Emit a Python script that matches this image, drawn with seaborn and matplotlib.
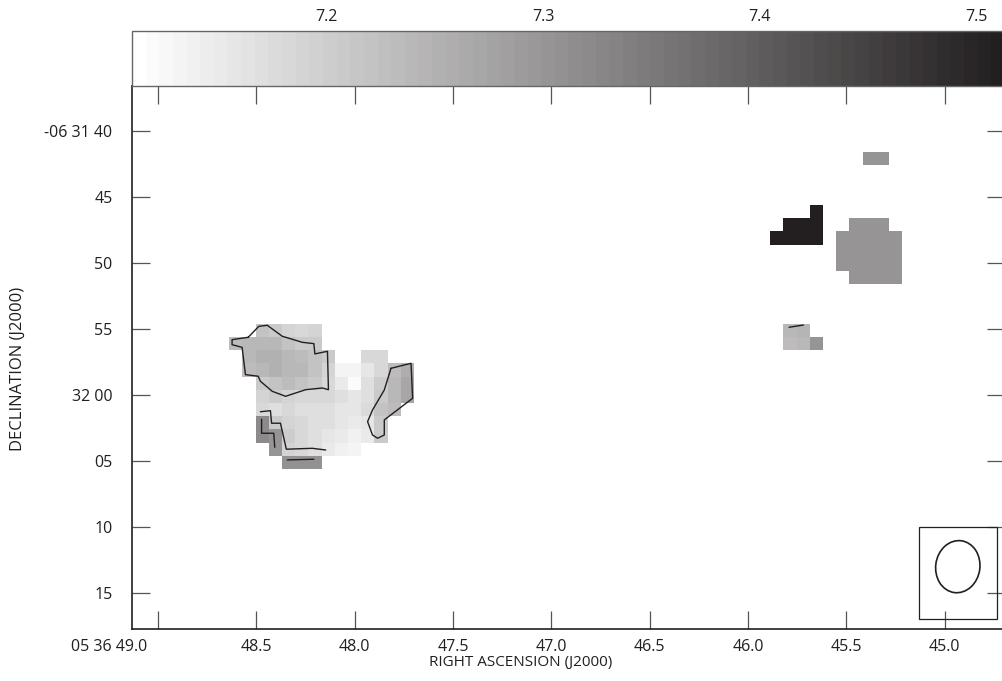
import numpy as np
import matplotlib
matplotlib.use('Agg')
import matplotlib.pyplot as plt
import matplotlib.transforms as mtransforms
from matplotlib.colors import LinearSegmentedColormap
from matplotlib.patches import Rectangle, Ellipse
import seaborn as sns

nan = np.nan

#%%
# map grid: 1 arcsec pixels; column 0 / row 0 left and top edges
ra_edge0 = 49.175      # RA seconds (05 36 ss) at left edge of column 0
dec_edge0 = 35.606     # arcsec south of -06 31 00 at top edge of row 0
pix_ra = 0.06709       # RA seconds per pixel
pix_dec = 1.0          # arcsec per pixel
n_cols, n_rows = 67, 43

# main source, columns 8-21, rows 19-29
src1_col, src1_row = 8, 19
src1 = [
    [nan, nan, 7.22, 7.21, 7.19, 7.18, 7.19, nan, nan, nan, nan, nan, nan, nan],
    [7.23, 7.24, 7.24, 7.24, 7.22, 7.21, 7.21, nan, nan, nan, nan, nan, nan, nan],
    [nan, 7.24, 7.25, 7.25, 7.24, 7.23, 7.22, 7.21, nan, nan, 7.18, 7.18, nan, nan],
    [nan, 7.23, 7.24, 7.25, 7.24, 7.24, 7.22, 7.19, 7.13, 7.13, 7.16, 7.18, 7.23, 7.26],
    [nan, nan, 7.21, 7.22, 7.23, 7.22, 7.21, 7.18, 7.15, 7.12, 7.17, 7.20, 7.24, 7.27],
    [nan, nan, 7.19, 7.20, 7.19, 7.18, 7.18, 7.18, 7.17, 7.16, 7.17, 7.21, 7.24, 7.27],
    [nan, nan, 7.18, 7.17, 7.18, 7.17, 7.17, 7.17, 7.16, 7.16, 7.175, 7.22, 7.23, nan],
    [nan, nan, 7.32, 7.21, 7.19, 7.18, 7.17, 7.17, 7.16, 7.15, 7.16, 7.21, nan, nan],
    [nan, nan, 7.32, 7.30, 7.20, 7.18, 7.17, 7.16, 7.15, 7.14, 7.15, 7.21, nan, nan],
    [nan, nan, nan, 7.30, 7.19, 7.18, 7.17, 7.15, 7.14, 7.13, nan, nan, nan, nan],
    [nan, nan, nan, nan, 7.31, 7.31, 7.31, nan, nan, nan, nan, nan, nan, nan],
]

# dark knot
src2_col, src2_row = 49, 10
src2 = [
    [nan, nan, nan, 7.51],
    [nan, 7.51, 7.51, 7.51],
    [7.51, 7.51, 7.51, 7.51],
]

# grey patch east
src3_col, src3_row = 54, 11
src3 = [
    [nan, 7.305, 7.305, 7.305, nan],
    [7.305, 7.305, 7.305, 7.305, 7.305],
    [7.305, 7.305, 7.305, 7.305, 7.305],
    [7.305, 7.305, 7.305, 7.305, 7.305],
    [nan, 7.305, 7.305, 7.305, 7.305],
]

src4_col, src4_row = 56, 6
src4 = [[7.30, 7.30]]

src5_col, src5_row = 50, 19
src5 = [
    [7.24, 7.245, nan],
    [7.23, 7.24, 7.30],
]

# contours (RA seconds, Dec arcsec south of -06 31 00)
cont_a_ra = [48.542, 48.488, 48.445, 48.369, 48.267, 48.208, 48.203, 48.139, 48.134, 48.165,
             48.250, 48.352, 48.420, 48.480, 48.491, 48.556, 48.573, 48.624, 48.624, 48.542]
cont_a_dec = [55.63, 54.80, 54.72, 55.55, 56.01, 56.11, 56.89, 56.69, 59.60, 59.47,
              59.60, 60.10, 59.72, 58.96, 58.58, 58.46, 56.39, 56.19, 55.81, 55.63]
cont_b_ra = [47.816, 47.714, 47.706, 47.850, 47.850, 47.884, 47.910, 47.935, 47.910, 47.850, 47.816]
cont_b_dec = [57.98, 57.60, 60.25, 61.89, 63.03, 63.28, 63.03, 62.02, 61.14, 59.62, 57.98]
cont_c_ra = [48.480, 48.429, 48.423, 48.378, 48.348, 48.216, 48.148]
cont_c_dec = [61.27, 61.19, 62.14, 62.14, 64.11, 64.04, 64.17]
cont_d_ra = [48.474, 48.474, 48.412, 48.407]
cont_d_dec = [61.84, 62.90, 62.90, 63.96]
cont_e_ra = [48.343, 48.208]
cont_e_dec = [64.92, 64.87]
cont_f_ra = [45.792, 45.719]
cont_f_dec = [54.87, 54.70]

# beam
beam_ra, beam_dec = 44.934, 73.01
beam_w, beam_h, beam_pa = 3.35, 3.96, 8
beam_box_ra = (45.129, 44.735)
beam_box_dec = (69.98, 76.97)

# axes
ra_ticks = [49.0, 48.5, 48.0, 47.5, 47.0, 46.5, 46.0, 45.5, 45.0]
ra_labels = ['05 36 49.0', '48.5', '48.0', '47.5', '47.0', '46.5', '46.0', '45.5', '45.0']
dec_ticks = [40, 45, 50, 55, 60, 65, 70, 75]
dec_labels = ['-06 31 40', '45', '50', '55', '32 00', '05', '10', '15']
ra_lim = (49.133, 44.694)
dec_lim = (36.59, 77.73)
cbar_min, cbar_max = 7.1105, 7.513
cbar_ticks = [7.2, 7.3, 7.4, 7.5]

#%%
def ra_to_x(ra):
    return (ra_edge0 - np.asarray(ra, dtype=float)) / pix_ra

def dec_to_y(dec):
    return (np.asarray(dec, dtype=float) - dec_edge0) / pix_dec

grid = np.full((n_rows, n_cols), nan)
for c0, r0, block in [(src1_col, src1_row, src1), (src2_col, src2_row, src2),
                      (src3_col, src3_row, src3), (src4_col, src4_row, src4),
                      (src5_col, src5_row, src5)]:
    b = np.array(block, dtype=float)
    grid[r0:r0 + b.shape[0], c0:c0 + b.shape[1]] = b

sns.set_style('ticks')
plt.rcParams['font.family'] = ['Open Sans', 'DejaVu Sans']
ink = '#231f20'

fig = plt.figure(figsize=(10.02, 6.81), dpi=100)
ax = fig.add_axes([0.1317, 0.0764, 0.8713, 0.7973])
cax = fig.add_axes([0.1317, 0.8737, 0.8713, 0.0808])

cmap = LinearSegmentedColormap.from_list('aips_grey', ['#ffffff', ink], N=64)
sns.heatmap(grid, ax=ax, cmap=cmap, vmin=cbar_min, vmax=cbar_max, cbar_ax=cax,
            cbar_kws={'orientation': 'horizontal', 'ticks': cbar_ticks},
            xticklabels=False, yticklabels=False)

# contours
for cra, cdec in [(cont_a_ra, cont_a_dec), (cont_b_ra, cont_b_dec), (cont_c_ra, cont_c_dec),
                  (cont_d_ra, cont_d_dec), (cont_e_ra, cont_e_dec), (cont_f_ra, cont_f_dec)]:
    ax.plot(ra_to_x(cra), dec_to_y(cdec), color=ink, lw=1.0)

# beam
bx0, bx1 = ra_to_x(beam_box_ra)
by0, by1 = dec_to_y(beam_box_dec)
ax.add_patch(Rectangle((bx0, by0), bx1 - bx0, by1 - by0, fill=False, ec=ink, lw=0.9))
ax.add_patch(Ellipse((ra_to_x(beam_ra), dec_to_y(beam_dec)), beam_w, beam_h,
                     angle=beam_pa, fill=False, ec=ink, lw=1.2))

ax.set_xlim(ra_to_x(ra_lim))
ax.set_ylim(dec_to_y(dec_lim[1]), dec_to_y(dec_lim[0]))
ax.set_xticks(ra_to_x(ra_ticks))
ax.set_xticklabels(ra_labels)
ax.set_yticks(dec_to_y(dec_ticks))
ax.set_yticklabels(dec_labels)
for s in ax.spines.values():
    s.set_visible(True)
    s.set_color(ink)
    s.set_linewidth(1.2)

ax.tick_params(axis='both', direction='in', length=13, width=0.9, color='#555555',
               top=True, right=True, labeltop=False, labelright=False,
               labelsize=11.5, labelcolor=ink)
ax.tick_params(axis='x', pad=7)
ax.tick_params(axis='y', pad=14)

ax.set_xlabel('RIGHT ASCENSION (J2000)', fontsize=11, color=ink)
ax.set_ylabel('DECLINATION (J2000)', fontsize=12, color=ink)
ax.xaxis.set_label_coords(0.445, -0.048)
ax.yaxis.set_label_coords(-0.121, 0.478)

# colorbar
cb = ax.collections[0].colorbar
cb.outline.set_linewidth(1)
cb.outline.set_edgecolor('#666666')
cax.xaxis.set_ticks_position('top')
cax.xaxis.set_label_position('top')
cax.set_xticklabels(['7.2', '7.3', '7.4', '7.5'])
cax.tick_params(axis='x', direction='in', length=19.5, width=0.9, color=ink,
                pad=4, labelsize=11.5, labelcolor=ink)

# first RA label sits left of its tick
lab0 = ax.get_xticklabels()[0]
lab0.set_horizontalalignment('right')
lab0.set_transform(lab0.get_transform() +
                   mtransforms.ScaledTranslation(-0.11, 0, fig.dpi_scale_trans))

fig.savefig('out.png', dpi=100)
